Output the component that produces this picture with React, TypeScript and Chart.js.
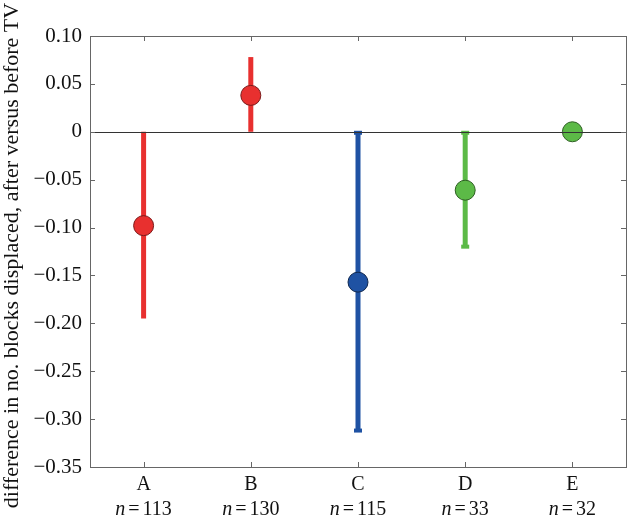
import React, { useEffect, useRef } from "react";
import { Chart, registerables } from "chart.js";

Chart.register(...registerables);

const categories = ["A", "B", "C", "D", "E"];
const sampleSizes = [113, 130, 115, 33, 32];
const means = [-0.098, 0.038, -0.157, -0.061, 0.0];
const errLow = [-0.195, 0.0, -0.313, -0.121, 0.0];
const errHigh = [0.0, 0.078, 0.0, 0.0, 0.0];
const yTicks = [0.1, 0.05, 0, -0.05, -0.1, -0.15, -0.2, -0.25, -0.3, -0.35];
const yTitle = "difference in no. blocks displaced, after versus before TV";

const fillColors = ["#e8302f", "#e8302f", "#1f52a3", "#5cba47", "#5cba47"];
const edgeColors = ["#7a1a1a", "#7a1a1a", "#10284f", "#2d5f22", "#2d5f22"];
const capped = [false, false, true, true, false];

const SERIF = "'Liberation Serif', 'DejaVu Serif', serif";

const fmt = (v: number) => {
  if (Math.abs(v) < 1e-9) return "0";
  return (v < 0 ? "\u2212" : "") + Math.abs(v).toFixed(2);
};

const decorPlugin = {
  id: "decor",
  beforeDatasetsDraw(chart: any) {
    const ctx = chart.ctx;
    const x = chart.scales.x;
    const y = chart.scales.y;
    ctx.save();
    for (let i = 0; i < categories.length; i++) {
      if (errLow[i] === errHigh[i]) continue;
      const px = x.getPixelForValue(i);
      const y1 = y.getPixelForValue(errHigh[i]);
      const y2 = y.getPixelForValue(errLow[i]);
      ctx.strokeStyle = fillColors[i];
      ctx.lineWidth = 5;
      ctx.lineCap = "butt";
      ctx.beginPath();
      ctx.moveTo(px, y1);
      ctx.lineTo(px, y2);
      ctx.stroke();
      if (capped[i]) {
        ctx.fillStyle = fillColors[i];
        ctx.fillRect(px - 4, y1 - 1, 8, 4);
        ctx.fillRect(px - 4, y2 - 3, 8, 4);
      }
    }
    ctx.restore();
  },
  afterDatasetsDraw(chart: any) {
    const ctx = chart.ctx;
    const a = chart.chartArea;
    const x = chart.scales.x;
    const y = chart.scales.y;
    ctx.save();
    // zero line
    const y0 = Math.round(y.getPixelForValue(0)) + 0.5;
    ctx.strokeStyle = "#333";
    ctx.lineWidth = 1;
    ctx.beginPath();
    ctx.moveTo(a.left, y0);
    ctx.lineTo(a.right, y0);
    ctx.stroke();
    // box
    ctx.strokeStyle = "#666";
    ctx.strokeRect(Math.round(a.left) + 0.5, Math.round(a.top) + 0.5, Math.round(a.right - a.left), Math.round(a.bottom - a.top));
    // inward ticks
    ctx.beginPath();
    for (const t of yTicks) {
      const py = Math.round(y.getPixelForValue(t)) + 0.5;
      ctx.moveTo(a.left, py);
      ctx.lineTo(a.left + 5, py);
      ctx.moveTo(a.right, py);
      ctx.lineTo(a.right - 5, py);
    }
    for (let i = 0; i < categories.length; i++) {
      const px = Math.round(x.getPixelForValue(i)) + 0.5;
      ctx.moveTo(px, a.top);
      ctx.lineTo(px, a.top + 5);
      ctx.moveTo(px, a.bottom);
      ctx.lineTo(px, a.bottom - 5);
    }
    ctx.stroke();
    // n = ... labels
    ctx.fillStyle = "#111";
    ctx.textBaseline = "middle";
    ctx.textAlign = "left";
    const ly = a.bottom + 43;
    const italic = "italic 20px " + SERIF;
    const normal = "20px " + SERIF;
    const gap = 3;
    for (let i = 0; i < categories.length; i++) {
      const px = x.getPixelForValue(i);
      const num = String(sampleSizes[i]);
      ctx.font = italic;
      const w1 = ctx.measureText("n").width;
      ctx.font = normal;
      const wEq = ctx.measureText("=").width;
      const wNum = ctx.measureText(num).width;
      const total = w1 + gap + wEq + gap + wNum;
      let cx = px - total / 2;
      ctx.font = italic;
      ctx.fillText("n", cx, ly);
      cx += w1 + gap;
      ctx.font = normal;
      ctx.fillText("=", cx, ly);
      cx += wEq + gap;
      ctx.fillText(num, cx, ly);
    }
    // y axis title
    ctx.save();
    ctx.translate(18, (a.top + a.bottom) / 2 + 4);
    ctx.rotate(-Math.PI / 2);
    ctx.font = "22px " + SERIF;
    ctx.textAlign = "center";
    ctx.textBaseline = "alphabetic";
    ctx.fillStyle = "#111";
    ctx.fillText(yTitle, 0, 0);
    ctx.restore();
    ctx.restore();
  },
};

export default function App() {
  const ref = useRef<HTMLCanvasElement | null>(null);
  useEffect(() => {
    document.body.style.margin = "0";
    const canvas = ref.current;
    if (!canvas) return;
    const chart = new Chart(canvas, {
      type: "line",
      data: {
        labels: categories,
        datasets: [
          {
            data: means,
            showLine: false,
            pointRadius: 10,
            pointHoverRadius: 10,
            pointBackgroundColor: fillColors,
            pointBorderColor: edgeColors,
            pointBorderWidth: 1,
          },
        ],
      },
      options: {
        animation: false,
        responsive: false,
        events: [],
        layout: { padding: { top: 36, right: 3, left: 0, bottom: 0 } },
        plugins: { legend: { display: false }, tooltip: { enabled: false } },
        scales: {
          x: {
            type: "category",
            offset: true,
            grid: { display: false, drawTicks: false },
            border: { display: false },
            ticks: { color: "#111", font: { family: SERIF, size: 20 }, padding: 6 },
            afterFit: (s: any) => {
              s.height = 53;
            },
          },
          y: {
            min: -0.35,
            max: 0.1,
            grid: { display: false, drawTicks: false },
            border: { display: false },
            afterBuildTicks: (s: any) => {
              s.ticks = yTicks.map((v) => ({ value: v }));
            },
            ticks: {
              color: "#111",
              font: { family: SERIF, size: 21 },
              padding: 8,
              callback: (v: any) => fmt(Number(v)),
            },
            title: { display: false },
            afterFit: (s: any) => {
              s.width = 90;
            },
          },
        },
      },
      plugins: [decorPlugin],
    });
    return () => chart.destroy();
  }, []);
  return (
    <div style={{ width: 637, height: 520 }}>
      <canvas ref={ref} width={637} height={520} />
    </div>
  );
}
